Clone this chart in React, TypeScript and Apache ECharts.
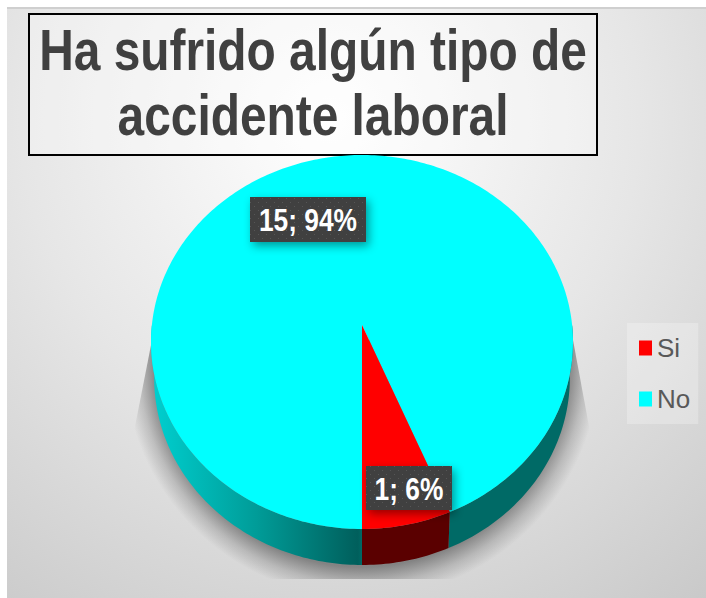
import React, { useEffect, useRef } from "react";
import * as echarts from "echarts";

const categories = ["Si", "No"];
const values = [1, 15];
const sliceColors = ["#ff0000", "#00ffff"];
const titleText = "Ha sufrido algún tipo de\naccidente laboral";

const W = 706;
const H = 598;
const CX = 362;
const CY = 342;
const RX = 211;
const RY = 187;
const APEX_Y = 325;
const DEPTH = 36;
const START_ANGLE = 157.5;
const SHADOW_CY = 360;
const SHADOW_R = 238;
const SHADOW_BOTTOM = 579;
const LABEL_BOXES = [
  { x: 366, y: 466, w: 86, h: 44 },
  { x: 250, y: 197, w: 116, h: 45 },
];
const FONT = "'Liberation Sans', Arial, sans-serif";
const E = (APEX_Y - CY) / RY;

const total = values.reduce((a, b) => a + b, 0);

// Perspective view of the pie's circular rim: the circle's centre lands on the apex.
function rim(deg: number, dy = 0, k = 1): number[] {
  const t = (deg * Math.PI) / 180;
  const u = Math.sin(t);
  const v = -Math.cos(t);
  const d = 1 + E * v;
  return [CX + (RX * k * u * Math.sqrt(1 - E * E)) / d, CY + dy + (RY * (v + E)) / d];
}

function arcPoints(a: number, b: number, dy = 0, k = 1): number[][] {
  const pts: number[][] = [];
  const n = Math.max(2, Math.ceil(Math.abs(b - a)));
  for (let i = 0; i <= n; i++) pts.push(rim(a + ((b - a) * i) / n, dy, k));
  return pts;
}

function sideColor(index: number) {
  if (index === 0) return "#5a0000";
  return new echarts.graphic.LinearGradient(
    CX - RX, 0, CX + RX, 0,
    [
      { offset: 0, color: "#00d0d0" },
      { offset: 0.25, color: "#009c98" },
      { offset: 0.49, color: "#005f5c" },
      { offset: 0.5, color: "#006a66" },
      { offset: 1, color: "#006a66" },
    ],
    true
  );
}

function backgroundFill() {
  return new echarts.graphic.RadialGradient(
    330, 120, 620,
    [
      { offset: 0, color: "#ffffff" },
      { offset: 0.5, color: "#e6e6e6" },
      { offset: 1, color: "#c8c8c8" },
    ],
    true
  );
}

function shadowShape(): number[][] {
  const pts: number[][] = [[152, 340]];
  for (let deg = 107; deg <= 253; deg += 2) {
    const t = (deg * Math.PI) / 180;
    const x = CX - SHADOW_R * Math.sin(t);
    const y = SHADOW_CY - SHADOW_R * Math.cos(t);
    pts.push([x, Math.min(y, SHADOW_BOTTOM)]);
  }
  pts.push([573, 340]);
  return pts;
}

function dotPattern(): any {
  const c = document.createElement("canvas");
  c.width = 8;
  c.height = 8;
  const g = c.getContext("2d")!;
  g.fillStyle = "#3f3f3f";
  g.fillRect(0, 0, 8, 8);
  g.fillStyle = "#565656";
  g.fillRect(2, 2, 1, 1);
  g.fillRect(6, 6, 1, 1);
  return { image: c, repeat: "repeat" };
}

function sliceRange(index: number): number[] {
  let a = START_ANGLE;
  for (let i = 0; i < index; i++) a += (values[i] / total) * 360;
  return [a, a + (values[index] / total) * 360];
}

function makeRenderItem(index: number, pattern: any) {
  return (_params: any, api: any) => {
    const value = api.value(0);
    const [a, b] = sliceRange(index);
    const children: any[] = [];
    if (index === 1) {
      children.push({
        type: "polygon",
        shape: { points: shadowShape() },
        style: {
          fill: new echarts.graphic.RadialGradient(
            CX, SHADOW_CY, SHADOW_R,
            [
              { offset: 0, color: "rgba(110,110,110,0.8)" },
              { offset: 0.87, color: "rgba(110,110,110,0.8)" },
              { offset: 0.94, color: "rgba(110,110,110,0.3)" },
              { offset: 1, color: "rgba(110,110,110,0)" },
            ],
            true
          ),
        },
      });
    }
    for (const shift of [0, 360]) {
      const lo = Math.max(a - shift, 90);
      const hi = Math.min(b - shift, 270);
      if (hi > lo) {
        const top = arcPoints(lo, hi);
        const bottom = arcPoints(hi, lo, DEPTH, 0.985);
        children.push({
          type: "polygon",
          shape: { points: top.concat(bottom) },
          style: { fill: sideColor(index) },
        });
      }
    }
    children.push({
      type: "polygon",
      shape: { points: [[CX, APEX_Y], ...arcPoints(a, b)] },
      style: { fill: sliceColors[index] },
    });
    const box = LABEL_BOXES[index];
    children.push({
      type: "rect",
      shape: { x: box.x, y: box.y, width: box.w, height: box.h },
      style: { fill: pattern, shadowBlur: 10, shadowColor: "rgba(0,0,0,0.4)", shadowOffsetX: 3, shadowOffsetY: 4 },
    });
    children.push({
      type: "text",
      x: box.x + box.w / 2,
      y: box.y + box.h / 2 + 1,
      scaleX: 0.85,
      style: {
        x: 0,
        y: 0,
        text: `${value}; ${Math.round((value / total) * 100)}%`,
        fill: "#ffffff",
        font: `bold 31px ${FONT}`,
        align: "center",
        verticalAlign: "middle",
      },
    });
    return { type: "group", children };
  };
}

export default function App() {
  const ref = useRef<HTMLDivElement>(null);
  useEffect(() => {
    const chart = echarts.init(ref.current!, null, { renderer: "svg", width: W, height: H });
    const pattern = dotPattern();
    chart.setOption({
      animation: false,
      backgroundColor: "#ffffff",
      legend: {
        data: categories,
        orient: "vertical",
        left: 627,
        top: 323,
        padding: [12, 8, 12, 12],
        itemWidth: 13,
        itemHeight: 15,
        itemGap: 25,
        icon: "rect",
        backgroundColor: "rgba(255,255,255,0.25)",
        textStyle: { fontFamily: FONT, fontSize: 26, color: "#595959" },
        selectedMode: false,
      },
      graphic: [
        {
          type: "rect",
          z: -10,
          shape: { x: 7, y: 7, width: W - 7, height: H - 7 },
          style: { fill: backgroundFill() },
        },
        { type: "rect", z: -9, shape: { x: 7, y: 7, width: W - 7, height: 2 }, style: { fill: "#cfcfcf" } },
        {
          type: "rect",
          z: -8,
          shape: { x: 29, y: 14, width: 568, height: 141 },
          style: { fill: "rgba(255,255,255,0.3)", stroke: "#000000", lineWidth: 2 },
        },
        {
          type: "text",
          z: 10,
          x: 313,
          y: 17,
          scaleX: 0.825,
          style: {
            x: 0,
            y: 0,
            text: titleText,
            fill: "#404040",
            font: `bold 58px ${FONT}`,
            lineHeight: 65,
            align: "center",
            verticalAlign: "top",
          },
        },
      ],
      series: [
        {
          type: "custom",
          name: categories[1],
          coordinateSystem: "none",
          z: 2,
          silent: true,
          itemStyle: { color: sliceColors[1] },
          data: [[values[1]]],
          renderItem: makeRenderItem(1, pattern),
        },
        {
          type: "custom",
          name: categories[0],
          coordinateSystem: "none",
          z: 3,
          silent: true,
          itemStyle: { color: sliceColors[0] },
          data: [[values[0]]],
          renderItem: makeRenderItem(0, pattern),
        },
      ],
    });
    return () => chart.dispose();
  }, []);
  return <div ref={ref} style={{ position: "fixed", left: 0, top: 0, width: W, height: H }} />;
}
